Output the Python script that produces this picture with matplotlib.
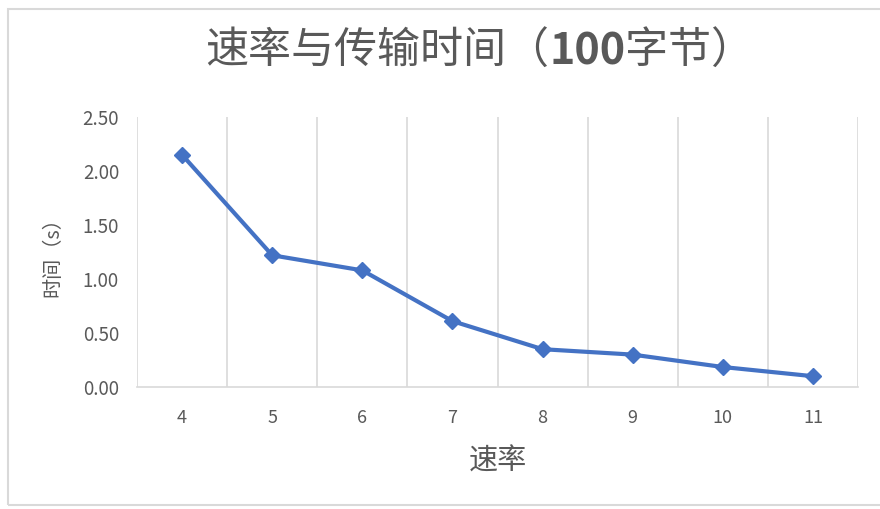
import matplotlib
matplotlib.use('Agg')
import matplotlib.pyplot as plt
from matplotlib.patches import Rectangle

plt.rcParams['font.family'] = ['Noto Sans CJK SC', 'DejaVu Sans']

# data
rates = ['4', '5', '6', '7', '8', '9', '10', '11']
times = [2.15, 1.22, 1.08, 0.61, 0.35, 0.30, 0.185, 0.10]

grey = '#595959'
grid_c = '#D9D9D9'
blue = '#4472C4'

fig = plt.figure(figsize=(8.8, 5.09), dpi=100)
ax = fig.add_axes([0.1557, 0.2397, 0.8193, 0.5303])

x = list(range(len(rates)))
ax.plot(x, times, color=blue, lw=3, marker='D', ms=8, zorder=3)

ax.set_xlim(-0.5, len(rates) - 0.5)
ax.set_ylim(0, 2.5)
ax.set_xticks(x)
ax.set_xticklabels(rates)
ax.set_xticks([i - 0.5 for i in range(len(rates) + 1)], minor=True)
yt = [0, 0.5, 1.0, 1.5, 2.0, 2.5]
ax.set_yticks(yt)
ax.set_yticklabels(['%.2f' % v for v in yt])
ax.grid(True, which='minor', axis='x', color=grid_c, lw=1.2)
ax.tick_params(which='both', length=0)
ax.tick_params(axis='x', pad=16, labelsize=13, labelcolor=grey)
ax.tick_params(axis='y', pad=13, labelsize=13.5, labelcolor=grey)

for s in ['top', 'left', 'right']:
    ax.spines[s].set_visible(False)
ax.spines['bottom'].set_color(grid_c)
ax.spines['bottom'].set_linewidth(1.2)

ax.set_xlabel('速率', fontsize=21, color=grey, labelpad=14)
ax.set_ylabel('时间（s）', fontsize=14.5, color=grey, labelpad=14)

# title with bold "100"
parts = [('速率与传输时间（', 'normal'), ('100', 'bold'), ('字节）', 'normal')]
tys = 0.898
texts = [fig.text(0, tys, p, ha='left', va='center', fontsize=31,
                  color=grey, fontweight=w) for p, w in parts]
fig.canvas.draw()
r = fig.canvas.get_renderer()
widths = [t.get_window_extent(r).width / fig.bbox.width for t in texts]
x0 = 0.545 - sum(widths) / 2
for t, w in zip(texts, widths):
    t.set_x(x0)
    x0 += w

fig.patches.append(Rectangle((0.009, 0.008), 1.2, 0.975, transform=fig.transFigure,
                             fill=False, edgecolor=grid_c, lw=1.5))

fig.savefig('out.png', dpi=100)
